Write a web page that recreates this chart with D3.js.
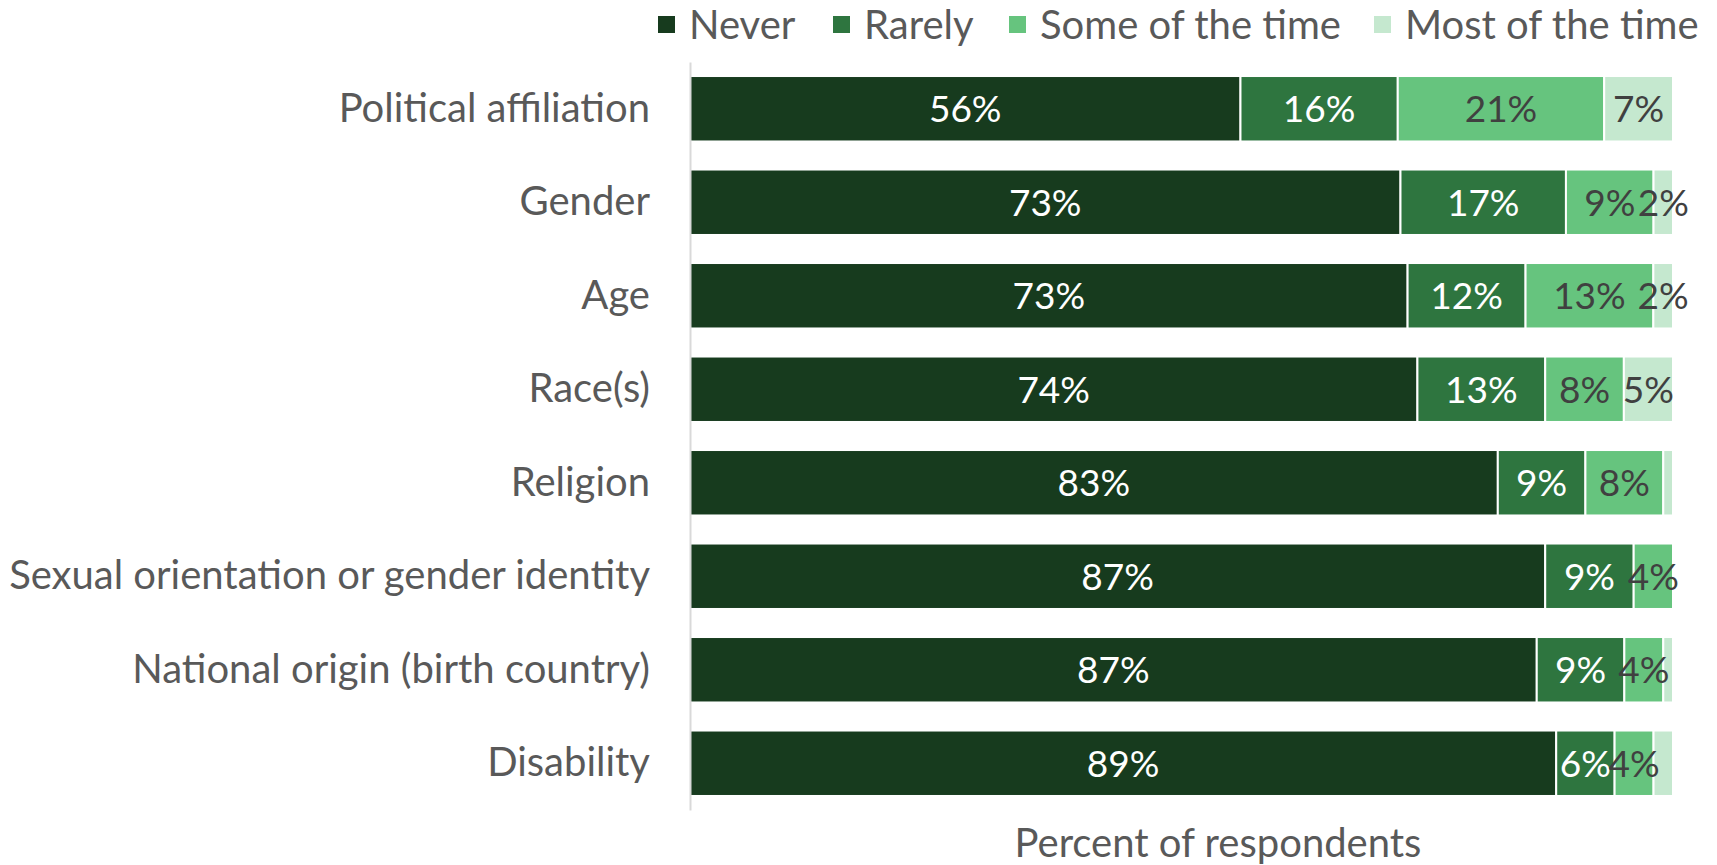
<!DOCTYPE html>
<html><head><meta charset="utf-8">
<script src="https://cdn.jsdelivr.net/npm/d3@7"></script>
<style>
html,body{margin:0;padding:0;background:#fff;}
svg{display:block;}
text{font-family:"Lato","Open Sans",sans-serif;}
</style></head>
<body><svg id="chart" width="1717" height="865"></svg>
<script>
const categories = ["Political affiliation","Gender","Age","Race(s)","Religion","Sexual orientation or gender identity","National origin (birth country)","Disability"];
const seriesNames = ["Never","Rarely","Some of the time","Most of the time"];
const never     = [56,73,73,74,83,87,87,89];
const rarely    = [16,17,12,13,9,9,9,6];
const someTime  = [21,9,13,8,8,4,4,4];
const mostTime  = [7,2,2,5,1,0,1,2];
const showLabel = [
  [true,true,true,true,true,true,true,true],
  [true,true,true,true,true,true,true,true],
  [true,true,true,true,true,true,true,true],
  [true,true,true,true,false,false,false,false]
];
const colors = ["#173b1e","#2e753f","#66c47e","#c5e8cf"];
const labelColors = ["#ffffff","#ffffff","#404040","#404040"];

const svg = d3.select("#chart");
const margin = {left:690, right:44, top:62, bottom:55};
const W = 1717, H = 865;
const series = [never, rarely, someTime, mostTime];

const rows = categories.map((c,i)=>{
  const vals = series.map(s=>s[i]);
  const tot = d3.sum(vals);
  return {cat:c, vals, tot};
});

const x = d3.scaleLinear().domain([0,1]).range([margin.left, W-margin.right]);
const y = d3.scaleBand().domain(categories).range([margin.top, H-margin.bottom]).paddingInner(0.3).paddingOuter(0.15);

const stackData = rows.map(r=>{
  const o = {cat:r.cat};
  seriesNames.forEach((n,k)=>o[n]=r.vals[k]/r.tot);
  return o;
});
const stacked = d3.stack().keys(seriesNames)(stackData);

const g = svg.append("g");
stacked.forEach((layer,k)=>{
  g.selectAll(null).data(layer).enter().append("rect")
    .attr("x", d=>x(d[0]))
    .attr("y", d=>y(d.data.cat))
    .attr("width", d=>Math.max(0, x(d[1])-x(d[0])))
    .attr("height", y.bandwidth())
    .attr("fill", colors[k])
    .attr("stroke","#fff").attr("stroke-width",2);
});
stacked.forEach((layer,k)=>{
  g.selectAll(null).data(layer.map((d,i)=>({d,i}))).enter()
    .filter(o=>showLabel[k][o.i] && series[k][o.i]>0)
    .append("text")
    .attr("x", o=>(x(o.d[0])+x(o.d[1]))/2)
    .attr("y", o=>y(o.d.data.cat)+y.bandwidth()/2)
    .attr("dy","0.36em")
    .attr("text-anchor","middle")
    .attr("fill", labelColors[k])
    .style("font-size","37px")
    .text(o=>series[k][o.i]+"%");
});

// y axis
const yAxis = d3.axisLeft(y).tickSize(0).tickPadding(40);
const ya = svg.append("g").attr("transform",`translate(${margin.left},0)`).call(yAxis);
ya.select(".domain").attr("stroke","#d9d9d9").attr("stroke-width",2);
ya.selectAll("text").attr("fill","#595959").style("font-size","40px").style("font-family",'"Lato","Open Sans",sans-serif');

// axis title
svg.append("text").attr("x",1218).attr("y",857).attr("text-anchor","middle")
  .attr("fill","#595959").style("font-size","40px").text("Percent of respondents");

// legend
const legX = [658, 833, 1009, 1374];
const leg = svg.append("g");
seriesNames.forEach((n,k)=>{
  leg.append("rect").attr("x",legX[k]).attr("y",16).attr("width",17).attr("height",17).attr("fill",colors[k]);
  leg.append("text").attr("x",legX[k]+31).attr("y",25).attr("dy","0.36em")
    .attr("fill","#595959").style("font-size","40px").text(n);
});
</script></body></html>
